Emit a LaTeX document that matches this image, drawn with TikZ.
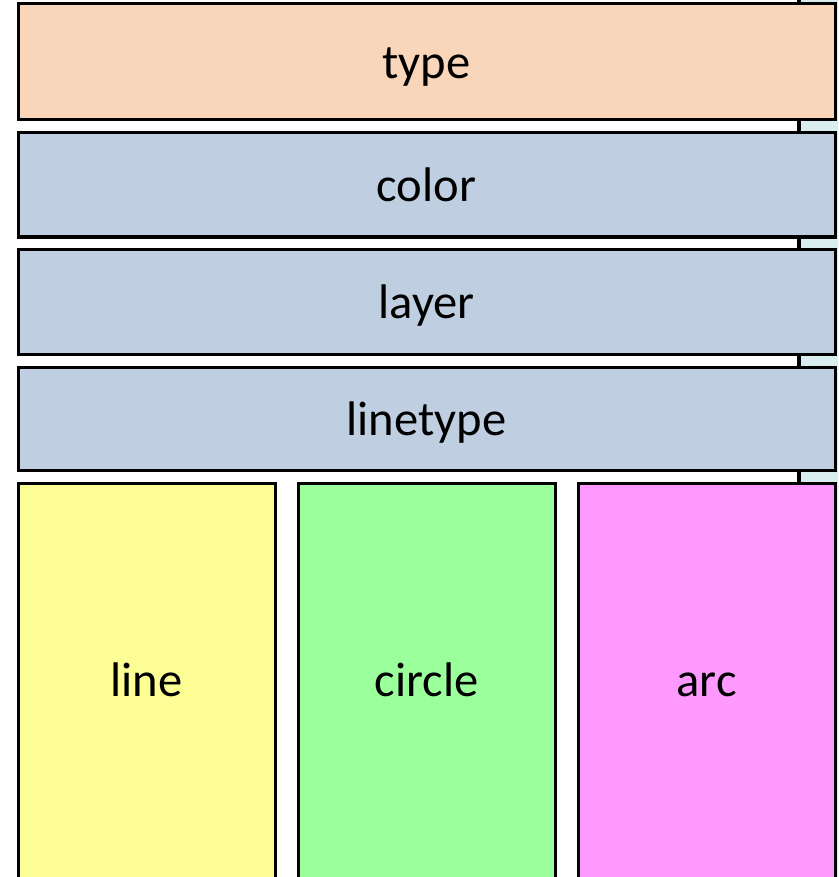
\documentclass[tikz,border=0pt]{standalone}
\usepackage{fontspec}
\setmainfont{Carlito}
\definecolor{peach}{HTML}{F9D5B9}
\definecolor{slate}{HTML}{BFCFE1}
\definecolor{lemon}{HTML}{FDFD96}
\definecolor{mint}{HTML}{9BFF9B}
\definecolor{orchid}{HTML}{FF99FF}
\definecolor{paleaqua}{HTML}{DAEEF0}
\begin{document}
\begin{tikzpicture}[x=1pt,y=-1pt,
  field/.style={draw=black, line width=3pt, rectangle, inner sep=0pt,
    font=\fontsize{48.6}{56}\selectfont},
  wide/.style={field, minimum width=817pt, text height=36pt, text depth=3pt},
  kind/.style={field, minimum width=257pt, minimum height=400pt,
    text height=34pt, text depth=8pt}]
\useasboundingbox (0,0) rectangle (838,877);
\begin{scope}
\clip (0,0) rectangle (838,877);
% panel behind the record, seen through the gaps on the right
\draw[fill=paleaqua, line width=4pt] (799,-10) rectangle (900,900);
% common header fields
\node[wide, fill=peach, minimum height=116pt] (type) at (426.5,62) {type};
\node[wide, fill=slate, minimum height=104pt] (color) at (426.5,185) {color};
\node[wide, fill=slate, minimum height=105pt] (layer) at (426.5,301.5) {layer};
\node[wide, fill=slate, minimum height=103pt] (linetype) at (426.5,418.5) {linetype};
% entity specific parts
\node[kind, fill=lemon] (line) at (146.5,683) {line};
\node[kind, fill=mint] (circle) at (426.5,683) {circle};
\node[kind, fill=orchid] (arc) at (706.5,683) {arc};
\end{scope}
\end{tikzpicture}
\end{document}
